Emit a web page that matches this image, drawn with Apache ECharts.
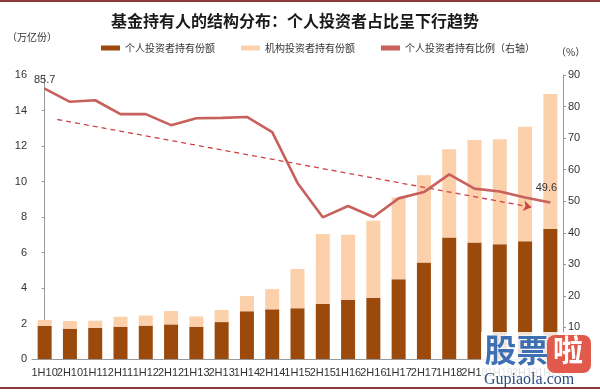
<!DOCTYPE html>
<html>
<head>
<meta charset="utf-8">
<script src="https://cdn.jsdelivr.net/npm/echarts@6/dist/echarts.min.js"></script>
<style>html,body{margin:0;padding:0;background:#fff}#c{width:600px;height:392px}</style>
</head>
<body>
<div id="c"></div>
<script>
var categories = ['1H10','2H10','1H11','2H11','1H12','2H12','1H13','2H13','1H14','2H14','1H15','2H15','1H16','2H16','1H17','2H17','1H18','2H18','1H19','2H19','1H20'];
var individualShares = [1.86,1.71,1.76,1.82,1.88,1.95,1.82,2.08,2.69,2.80,2.86,3.10,3.34,3.45,4.49,5.43,6.84,6.57,6.46,6.63,7.34];
var institutionalShares = [0.34,0.43,0.40,0.56,0.57,0.75,0.58,0.68,0.86,1.14,2.21,3.94,3.66,4.34,4.61,4.92,4.97,5.77,5.92,6.46,7.59];
var individualRatio = [85.7,81.5,82.0,77.6,77.6,74.1,76.3,76.4,76.7,71.9,55.8,44.9,48.5,45.0,50.9,52.9,58.5,54.0,53.1,51.2,49.6];
var trendStart = [0.5, 75.9];
var trendEnd = [19.25, 48.1];
var leftTicks = {min: 0, max: 16, interval: 2};
var rightTicks = {min: 0, max: 90, interval: 10};

var cjk = '"Noto Sans CJK SC", sans-serif';
var latin = '"Liberation Sans", Arial, sans-serif';

var ratioData = individualRatio.map(function (v, i) {
  if (i === 0) return {value: v, label: {show: true, position: 'top', distance: 3, offset: [0, 0]}};
  if (i === individualRatio.length - 1) return {value: v, label: {show: true, position: 'top', distance: 9, offset: [-4, 0]}};
  return v;
});

var chart = echarts.init(document.getElementById('c'), null, {renderer: 'canvas'});
chart.setOption({
  animation: false,
  backgroundColor: '#fff',
  title: {
    text: '基金持有人的结构分布：个人投资者占比呈下行趋势',
    left: 290, textAlign: 'center', top: 8,
    textStyle: {fontFamily: cjk, fontSize: 16, fontWeight: 'bold', color: '#1a1a1a'}
  },
  legend: {
    left: 96, top: 38, itemWidth: 19, itemHeight: 5, itemGap: 26, itemTextGap: 2,
    textStyle: {fontFamily: cjk, fontSize: 10, color: '#333'},
    data: [
      {name: '个人投资者持有份额', icon: 'rect'},
      {name: '机构投资者持有份额', icon: 'rect'},
      {name: '个人投资者持有比例（右轴）', icon: 'rect'}
    ]
  },
  grid: {left: 32, right: 37, top: 75, bottom: 33, containLabel: false},
  xAxis: [{
    type: 'category', data: categories, boundaryGap: true,
    axisLine: {show: true, lineStyle: {color: '#999', width: 1}},
    axisTick: {show: false},
    axisLabel: {interval: 0, fontFamily: latin, fontSize: 11, color: '#333', margin: 8}
  }, {
    type: 'value', min: -0.5, max: 20.5, show: false
  }],
  yAxis: [{
    type: 'value', min: leftTicks.min, max: leftTicks.max, interval: leftTicks.interval,
    splitLine: {show: false},
    axisLine: {show: true, lineStyle: {color: '#999'}},
    axisTick: {show: true, length: 3, lineStyle: {color: '#999'}},
    axisLabel: {fontFamily: latin, fontSize: 11, color: '#333', margin: 5}
  }, {
    type: 'value', min: rightTicks.min, max: rightTicks.max, interval: rightTicks.interval,
    position: 'right',
    splitLine: {show: false},
    axisLine: {show: true, lineStyle: {color: '#999'}},
    axisTick: {show: true, length: 3, lineStyle: {color: '#999'}},
    axisLabel: {fontFamily: latin, fontSize: 11, color: '#333', margin: 5}
  }],
  series: [{
    name: '个人投资者持有份额', type: 'bar', stack: 'total', data: individualShares,
    barWidth: 14, itemStyle: {color: '#9b4a0c'}, z: 2
  }, {
    name: '机构投资者持有份额', type: 'bar', stack: 'total', data: institutionalShares,
    barWidth: 14, itemStyle: {color: '#fbd0ab'}, z: 2
  }, {
    name: '个人投资者持有比例（右轴）', type: 'line', yAxisIndex: 1, data: ratioData,
    symbol: 'circle', symbolSize: 0, showSymbol: true,
    lineStyle: {color: '#c8605c', width: 2.6}, itemStyle: {color: '#c8605c'},
    label: {show: false, fontFamily: latin, fontSize: 11, color: '#333'}, z: 4
  }, {
    name: 'trend', type: 'lines', coordinateSystem: 'cartesian2d', xAxisIndex: 1, yAxisIndex: 1,
    symbol: ['none', 'arrow'], symbolSize: 8,
    lineStyle: {color: '#cc4444', width: 1.3, type: [5, 4], opacity: 1},
    data: [{coords: [trendStart, trendEnd]}], z: 3, silent: true
  }],
  graphic: [
    {type: 'rect', shape: {x: 0, y: 0, width: 600, height: 2}, style: {fill: '#8c3a3a'}, silent: true},
    {type: 'rect', shape: {x: 0, y: 387, width: 600, height: 2}, style: {fill: '#8c3a3a'}, silent: true},
    {type: 'text', left: 7, top: 32, style: {text: '（万亿份）', font: '10px ' + cjk, fill: '#333'}},
    {type: 'text', left: 556, top: 47, style: {text: '（%）', font: '10px ' + cjk, fill: '#333'}},
    {type: 'rect', z: 50, shape: {x: 481, y: 332, width: 119, height: 55}, style: {fill: 'rgba(255,255,255,0.85)'}, silent: true},
    {type: 'text', z: 51, left: 484, top: 333, style: {text: '股票', font: 'bold 32px ' + cjk, fill: '#3f6fb3', stroke: '#fff', lineWidth: 1}},
    {type: 'rect', z: 51, shape: {x: 547, y: 335, width: 44, height: 38, r: 8}, style: {fill: '#e0594a'}},
    {type: 'text', z: 52, left: 553, top: 335, style: {text: '啦', font: 'bold 30px ' + cjk, fill: '#fff'}},
    {type: 'text', z: 52, left: 484, top: 372, style: {text: 'Gupiaola.com', font: '16px "Liberation Serif", "DejaVu Serif", serif', fill: '#2d4d7d'}}
  ]
});
</script>
</body>
</html>
